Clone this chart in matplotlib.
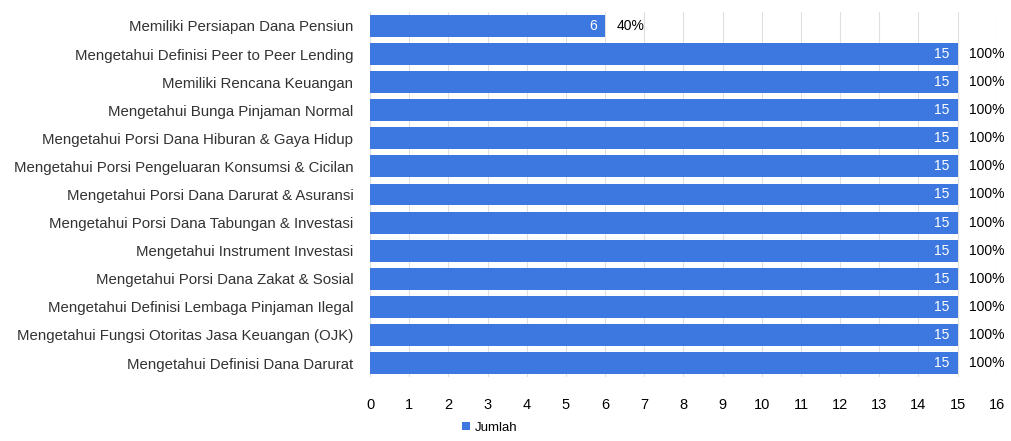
import matplotlib.pyplot as plt

plt.rcParams['font.family'] = ['Liberation Sans', 'DejaVu Sans']

labels = [
    'Memiliki Persiapan Dana Pensiun',
    'Mengetahui Definisi Peer to Peer Lending',
    'Memiliki Rencana Keuangan',
    'Mengetahui Bunga Pinjaman Normal',
    'Mengetahui Porsi Dana Hiburan & Gaya Hidup',
    'Mengetahui Porsi Pengeluaran Konsumsi & Cicilan',
    'Mengetahui Porsi Dana Darurat & Asuransi',
    'Mengetahui Porsi Dana Tabungan & Investasi',
    'Mengetahui Instrument Investasi',
    'Mengetahui Porsi Dana Zakat & Sosial',
    'Mengetahui Definisi Lembaga Pinjaman Ilegal',
    'Mengetahui Fungsi Otoritas Jasa Keuangan (OJK)',
    'Mengetahui Definisi Dana Darurat',
]
jumlah = [6, 15, 15, 15, 15, 15, 15, 15, 15, 15, 15, 15, 15]
total = 15

blue = '#3c78e0'

fig = plt.figure(figsize=(10.11, 4.41), dpi=100)
ax = fig.add_axes([0.366, 0.145, 0.62, 0.828])

y = list(range(len(labels)))
ax.barh(y, jumlah, height=0.78, color=blue, label='Jumlah', zorder=2)

for yi, v in zip(y, jumlah):
    ax.text(v - 0.2, yi, str(v), color='white', ha='right', va='center',
            fontsize=10, zorder=3)
    ax.text(v + 0.3, yi, f'{round(v / total * 100)}%', color='black',
            ha='left', va='center', fontsize=10, zorder=3)

ax.set_xlim(0, 16)
ax.set_ylim(len(labels) - 0.5, -0.5)
ax.set_xticks(range(17))
ax.set_yticks(y)
ax.set_yticklabels(labels, fontsize=10.8, color='#333333')
ax.tick_params(axis='x', labelsize=10.5, length=0, pad=15)
ax.tick_params(axis='y', length=0, pad=12)
ax.grid(axis='x', color='#e0e0e0', linewidth=0.8, zorder=0)
for s in ax.spines.values():
    s.set_visible(False)

fig.legend(loc='lower left', bbox_to_anchor=(0.445, -0.01), frameon=False,
           fontsize=9.5, handlelength=0.6, handleheight=0.6, handletextpad=0.4)

fig.savefig('out.png', dpi=100)
